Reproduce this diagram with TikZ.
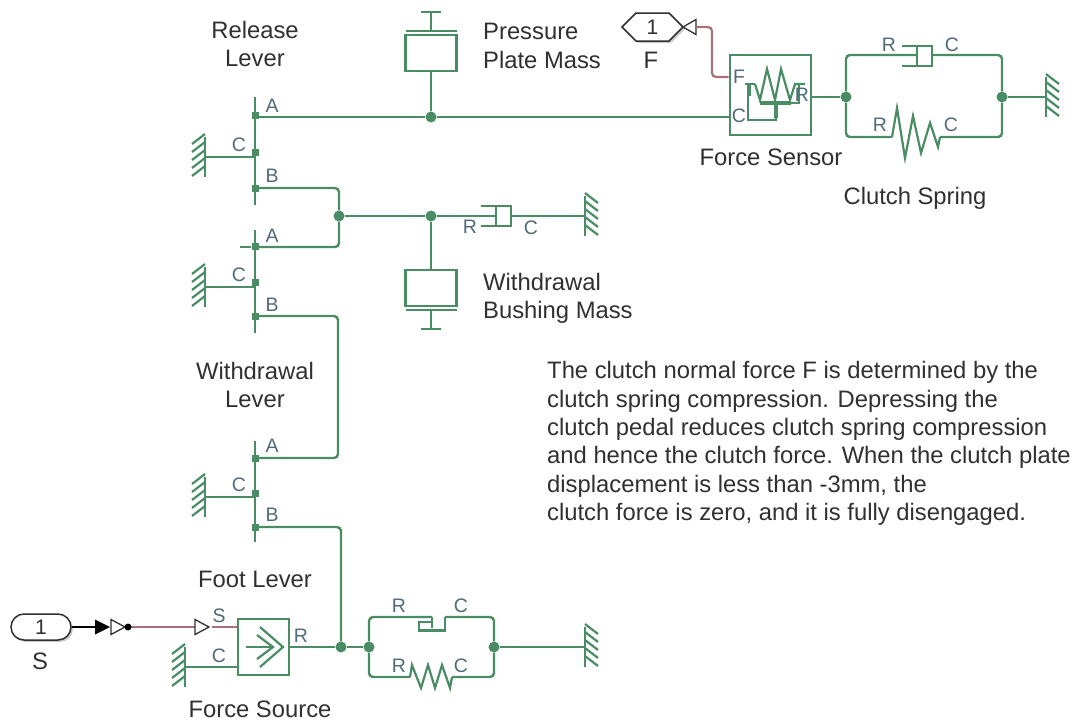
\documentclass[tikz,border=0pt]{standalone}
\usepackage{fontspec}
\setmainfont{Liberation Sans}
\usetikzlibrary{shapes.misc,shapes.symbols,shadows}

\definecolor{wirecol}{HTML}{4A8C64}
\definecolor{sigcol}{HTML}{A8707A}
\definecolor{portcol}{HTML}{4F6B78}
\definecolor{txtcol}{HTML}{303030}

\tikzset{
    wire/.style={draw=wirecol, line width=2.4pt, rounded corners=4pt},
    thin wire/.style={draw=wirecol, line width=2.2pt},
    sig wire/.style={draw=sigcol, line width=2.2pt, rounded corners=4pt},
    junction/.style={circle, fill=wirecol, inner sep=0pt, minimum size=11pt},
    joint/.style={rectangle, fill=wirecol, inner sep=0pt, minimum size=7pt},
    block/.style={rectangle, draw=wirecol, line width=2.6pt, inner sep=0pt},
    lbl/.style={text=txtcol, font=\fontsize{23.8}{28.3}\selectfont, inner sep=0pt},
    port/.style={text=portcol, font=\fontsize{19.5}{20}\selectfont, inner sep=0pt},
    pics/gnd/.style={code={
        \draw[thin wire, line width=2.6pt] (0,-20) -- (0,20);
        \foreach \i in {-23,-15,-7,1,9}
            \draw[thin wire] (0,\i) -- ++(13,10);
    }},
    pics/mass/.style={code={
        \draw[block] (-25.5,0) rectangle (25.5,-36);
        \draw[thin wire, line width=2.6pt] (-25.5,-40) -- (25.5,-40);
        \draw[thin wire] (0,-40) -- (0,-59);
        \draw[thin wire, line width=2.6pt] (-10,-59) -- (10,-59);
    }},
    pics/damper/.style={code={
        \draw[thin wire] (-15,-10) -- (15,-10) -- (15,10) -- (-15,10);
        \draw[thin wire] (0,-10) -- (0,10);
    }},
    pics/tri/.style={code={
        \draw[draw=txtcol, line width=1.3pt, fill=white] (0,-7.5) -- (14,0) -- (0,7.5) -- cycle;
    }},
}

\begin{document}
\begin{tikzpicture}[x=1pt, y=-1pt]
        \useasboundingbox (0,0) rectangle (1075,721);

        % levers
        \coordinate (lev1t) at (255,97);
        \coordinate (lev1b) at (255,205);
        \coordinate (lev2t) at (255,230);
        \coordinate (lev2b) at (255,333);
        \coordinate (lev3t) at (255,441);
        \coordinate (lev3b) at (255,542);
        \draw[thin wire] (lev1t) -- (lev1b);
        \draw[thin wire] (lev2t) -- (lev2b);
        \draw[thin wire] (lev3t) -- (lev3b);

        \node[joint] (lev1A) at (255,115) {};
        \node[joint] (lev1C) at (255,152) {};
        \node[joint] (lev1B) at (255,188) {};
        \node[joint] (lev2A) at (255,246) {};
        \node[joint] (lev2C) at (255,282) {};
        \node[joint] (lev2B) at (255,316) {};
        \node[joint] (lev3A) at (255,458) {};
        \node[joint] (lev3C) at (255,493) {};
        \node[joint] (lev3B) at (255,527) {};

        % junctions
        \node[junction] (jPlate) at (431,117) {};
        \node[junction] (jLever) at (339,216) {};
        \node[junction] (jBush) at (431,216) {};
        \node[junction] (jSrc) at (341,647) {};
        \node[junction] (jStopL) at (369,647) {};
        \node[junction] (jStopR) at (494,647) {};
        \node[junction] (jSprL) at (846,97) {};
        \node[junction] (jSprR) at (1002,97) {};

        % blocks
        \node[block, minimum width=81pt, minimum height=80pt] (sensor) at (770.5,95) {};
        \node[block, minimum width=51pt, minimum height=56pt] (source) at (263.5,647) {};

        % grounds
        \coordinate (gnd1) at (205,157);
        \coordinate (gnd2) at (205,287);
        \coordinate (gnd3) at (205,497);
        \coordinate (gnd4) at (185,667);
        \coordinate (gnd5) at (585,216);
        \coordinate (gnd6) at (585,647);
        \coordinate (gnd7) at (1046,97);
        \pic[xscale=-1] at (gnd1) {gnd};
        \pic[xscale=-1] at (gnd2) {gnd};
        \pic[xscale=-1] at (gnd3) {gnd};
        \pic[xscale=-1] at (gnd4) {gnd};
        \pic at (gnd5) {gnd};
        \pic at (gnd6) {gnd};
        \pic at (gnd7) {gnd};

        \draw[wire] (gnd1) -- (gnd1 -| lev1C);
        \draw[wire] (gnd2) -- (gnd2 -| lev2C);
        \draw[wire] (gnd3) -- (gnd3 -| lev3C);
        \draw[wire] (gnd4) -- (gnd4 -| source.west);
        \coordinate (lev2tick) at (240,247);
        \draw[draw=wirecol, line width=1.2pt] (lev2tick) -- (lev2tick -| lev2A.west);

        % masses
        \coordinate (massP) at (431,71);
        \coordinate (massB) at (431,270);
        \pic at (massP) {mass};
        \pic[yscale=-1] at (massB) {mass};
        \draw[wire] (jPlate) -- (massP);
        \draw[wire] (jBush) -- (massB);

        % dampers
        \coordinate (dampB) at (496,216);
        \coordinate (dampS) at (917,56);
        \pic at (dampB) {damper};
        \pic at (dampS) {damper};
        \draw[wire] (jBush) -- (dampB);
        \draw[wire] ([xshift=15pt]dampB) -- (gnd5);

        % lever connections
        \coordinate (sensorC) at (sensor.west |- jPlate);
        \draw[wire] (lev1A.center |- jPlate) -- (jPlate);
        \draw[wire] (jPlate) -- (sensorC);
        \draw[wire] (lev1B.center) -| (jLever);
        \draw[wire] (lev2A.center |- 0,247) -| (jLever);
        \draw[wire] (jLever) -- (jBush);
        \draw[wire] (lev2B.center) -- (338,316) -- (338,458) -- (lev3A.center);
        \draw[wire] (lev3B.center) -| (jSrc);
        \draw[wire] (source.east) -- (jSrc);
        \draw[wire] (jSrc) -- (jStopL);
        \draw[wire] (jStopR) -- (gnd6);

        % clutch spring
        \coordinate (sprA) at (892,137);
        \coordinate (sprB) at (940,137);
        \draw[wire] (sensor.east |- jSprL) -- (jSprL);
        \draw[wire] (jSprR) -- (gnd7);
        \draw[wire] (jSprL) |- ([yshift=1pt]dampS);
        \draw[wire] ([xshift=15pt,yshift=1pt]dampS) -| (jSprR);
        \draw[wire] (jSprL) |- (sprA);
        \draw[wire] (sprB) -| (jSprR);
        \draw[thin wire] (sprA) -- (897,108) -- (905,158) -- (913,116) -- (921,153) -- (930,123) -- (938,147) -- (sprB);

        % hard stop and translational spring
        \coordinate (stopA) at (432,617);
        \coordinate (stopB) at (445,617);
        \coordinate (sprC) at (410,677);
        \coordinate (sprD) at (452,677);
        \draw[wire] (jStopL) |- (stopA);
        \draw[thin wire] (stopA) -- (432,628);
        \draw[wire] (jStopR) |- (stopB);
        \draw[thin wire] (stopB) -- (445,630.5) -- (419,630.5) -- (419,622) -- (431,622);
        \draw[wire] (jStopL) |- (sprC);
        \draw[wire] (sprD) -| (jStopR);
        \draw[thin wire] (sprC) -- (412,665) -- (421,688) -- (428,665) -- (435,688) -- (442,665) -- (450,688) -- (sprD);

        % force source icon
        \coordinate (srcL) at (246,647);
        \coordinate (srcR) at (273,647);
        \coordinate (srcT) at (283,647);
        \draw[thin wire] (srcL) -- (srcR);
        \draw[thin wire] (257,635) -- (srcR) -- (257,659);
        \draw[thin wire] (260,627) -- (srcT) -- (260,667);

        % force sensor icon
        \draw[thin wire] (745,84) -- (755,84);
        \draw[thin wire] (748,84) -- (748,120) -- (776,120) -- (776,104);
        \draw[draw=wirecol, line width=4pt] (760,103) -- (791,103);
        \draw[draw=wirecol, line width=3.5pt] (749,84) -- (749,96);
        \draw[thin wire] (755,84) -- (760,100) -- (767,69) -- (775,100) -- (781,69) -- (790,100) -- (795,84) -- (805,84);
        \draw[thin wire] (799,84) -- (799,103) -- (790,103);
        \draw[draw=wirecol, line width=3.5pt] (776,104) -- (776,118);

        % inport and goto
        \node[draw=txtcol, line width=1.5pt, fill=white, rounded rectangle, minimum width=60pt, minimum height=26pt, inner sep=0pt,
              drop shadow={opacity=.4, shadow xshift=2pt, shadow yshift=-2pt},
              text=txtcol, font=\fontsize{21}{22}\selectfont] (inS) at (41,627) {1};
        \node[draw=txtcol, line width=1.5pt, fill=white, signal, signal to=east and west, signal pointer angle=90, minimum width=61pt, minimum height=28pt, inner sep=0pt,
              drop shadow={opacity=.4, shadow xshift=2pt, shadow yshift=-2pt},
              text=txtcol, font=\fontsize{21}{22}\selectfont] (gotoF) at (652.5,27) {1};

        % signal lines
        \coordinate (triA) at (95,627);
        \coordinate (triB) at (111,627);
        \coordinate (triC) at (128,627);
        \coordinate (triD) at (195,627);
        \coordinate (triE) at (212,627);
        \coordinate (triF) at (683,27);
        \coordinate (triG) at (697,27);
        \draw[draw=black, line width=1.5pt] (inS.east) -- (triA);
        \fill[black] (95,619.5) -- (110,627) -- (95,634.5) -- cycle;
        \pic at (triB) {tri};
        \draw[draw=sigcol, line width=2.2pt] (triC) -- (triD);
        \node[circle, fill=black, inner sep=0pt, minimum size=7pt] (sigDot) at (triC) {};
        \pic at (triD) {tri};
        \draw[draw=sigcol, line width=2.2pt] (triE) -- (source.west |- triE);
        \draw[draw=txtcol, line width=1.3pt, fill=white] (683,27) -- (696,19.5) -- (696,34.5) -- cycle;
        \draw[sig wire] (triG) -| (712,77) -- (sensor.west |- 0,77);

        % port labels
        \node[port] (lA1) at (272,106) {A};
        \node[port] (lC1) at (239,145) {C};
        \node[port] (lB1) at (272,176) {B};
        \node[port] (lA2) at (272,236) {A};
        \node[port] (lC2) at (239,275) {C};
        \node[port] (lB2) at (272,305) {B};
        \node[port] (lA3) at (272,446) {A};
        \node[port] (lC3) at (239,485) {C};
        \node[port] (lB3) at (272,515) {B};
        \node[port] (lR1) at (470,227) {R};
        \node[port] (lC4) at (531,228) {C};
        \node[port] (lF) at (739,77) {F};
        \node[port] (lCs) at (739,116) {C};
        \node[port] (lRs) at (802,95) {R};
        \node[port] (lR2) at (889,45) {R};
        \node[port] (lC5) at (952,45) {C};
        \node[port] (lR3) at (880,125) {R};
        \node[port] (lC6) at (951,125) {C};
        \node[port] (lS) at (219,616) {S};
        \node[port] (lC7) at (219,656) {C};
        \node[port] (lR4) at (301,636) {R};
        \node[port] (lR5) at (399,606) {R};
        \node[port] (lC8) at (461,606) {C};
        \node[port] (lR6) at (399,666) {R};
        \node[port] (lC9) at (461,666) {C};

        % block names
        \node[lbl, align=center] (relLever) at (255,44) {Release\\Lever};
        \node[lbl, align=left, anchor=west] (plate) at (483,46) {Pressure\\Plate Mass};
        \node[lbl, align=left, anchor=west] (bushing) at (483,298.5) {Withdrawal\\Bushing Mass};
        \node[lbl, align=center] (wdLever) at (255,385) {Withdrawal\\Lever};
        \node[lbl] (footLever) at (255,579) {Foot Lever};
        \node[lbl] (forceSrc) at (260,709) {Force Source};
        \node[lbl] (forceSen) at (771,157) {Force Sensor};
        \node[lbl] (clutchSpr) at (915,198) {Clutch Spring};
        \node[lbl] (nameF) at (651,60) {F};
        \node[lbl] (nameS) at (40,661) {S};
        \node[lbl, align=left, anchor=west] (note) at (547,443.5) {The clutch normal force F is determined by the\\clutch spring compression. Depressing the\\clutch pedal reduces clutch spring compression\\and hence the clutch force. When the clutch plate\\displacement is less than -3mm, the\\clutch force is zero, and it is fully disengaged.};
\end{tikzpicture}
\end{document}
